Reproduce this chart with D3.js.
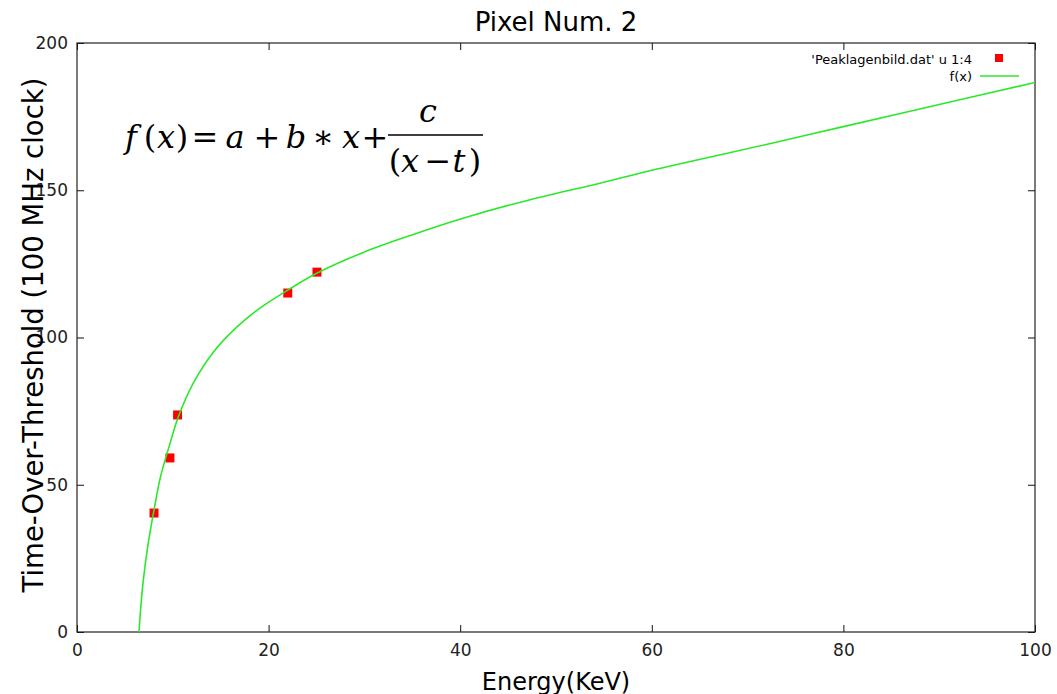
<!DOCTYPE html>
<html>
<head>
<meta charset="utf-8">
<script src="https://cdn.jsdelivr.net/npm/d3@7"></script>
<style>
  body { margin: 0; background: #fff; }
  svg { display: block; }
  .tick text { font-family: "DejaVu Sans", sans-serif; font-size: 17px; fill: #222; }
</style>
</head>
<body>
<div class="mainDiv"></div>
<script>
// measured points ('Peaklagenbild.dat' u 1:4)
const energy = [8.04, 9.7, 10.5, 22.0, 25.05];
const tot = [40.4, 59.1, 73.7, 115.1, 122.2];

// fitted curve f(x)
const fitEnergy = [6.47, 6.7, 6.92, 7.38, 8.07, 8.74, 9.71, 10.57, 12.14, 14.23, 16.67, 19.1, 22.06, 25.02, 29.89, 35.1, 40.3, 47.3, 54.6, 60, 72.3, 80, 90, 100];
const fitTot = [0, 10, 17.5, 29, 42, 53, 64, 73, 84.5, 95, 103.5, 110, 116.2, 121.8, 128.9, 135, 140.5, 146.8, 152.4, 156.8, 165.8, 171.6, 179.1, 186.6];

const xTicks = [0, 20, 40, 60, 80, 100];
const yTicks = [0, 50, 100, 150, 200];

const W = 1057, H = 694;
const margin = { top: 43, right: 22, bottom: 62, left: 77 };

const svg = d3.select('.mainDiv').append('svg')
  .attr('width', W).attr('height', H);

const x = d3.scaleLinear().domain([0, 100]).range([margin.left, W - margin.right]);
const y = d3.scaleLinear().domain([0, 200]).range([H - margin.bottom, margin.top]);

svg.append('clipPath').attr('id', 'plot')
  .append('rect')
  .attr('x', x(0)).attr('y', y(200))
  .attr('width', x(100) - x(0)).attr('height', y(0) - y(200));

// axes, ticks pointing inward on all four sides
svg.append('g')
  .attr('transform', `translate(0,${y(0)})`)
  .call(d3.axisBottom(x).tickValues(xTicks).tickSizeInner(-7).tickSizeOuter(0).tickPadding(12))
  .call(g => g.select('.domain').remove());
svg.append('g')
  .attr('transform', `translate(0,${y(200)})`)
  .call(d3.axisTop(x).tickValues(xTicks).tickSizeInner(-7).tickSizeOuter(0).tickFormat(''))
  .call(g => g.select('.domain').remove());
svg.append('g')
  .attr('transform', `translate(${x(0)},0)`)
  .call(d3.axisLeft(y).tickValues(yTicks).tickSizeInner(-7).tickSizeOuter(0).tickPadding(9))
  .call(g => g.select('.domain').remove());
svg.append('g')
  .attr('transform', `translate(${x(100)},0)`)
  .call(d3.axisRight(y).tickValues(yTicks).tickSizeInner(-7).tickSizeOuter(0).tickFormat(''))
  .call(g => g.select('.domain').remove());

svg.selectAll('.tick line').attr('stroke', '#111');

// border
svg.append('rect')
  .attr('x', x(0)).attr('y', y(200))
  .attr('width', x(100) - x(0)).attr('height', y(0) - y(200))
  .attr('fill', 'none').attr('stroke', '#222').attr('stroke-width', 1.2);

// data points
svg.append('g').selectAll('rect')
  .data(energy.map((e, i) => [e, tot[i]]))
  .join('rect')
  .attr('x', d => x(d[0]) - 4.5)
  .attr('y', d => y(d[1]) - 4.5)
  .attr('width', 9).attr('height', 9)
  .attr('fill', '#ff0000');

// fit line
const line = d3.line()
  .x(d => x(d[0]))
  .y(d => y(d[1]))
  .curve(d3.curveCatmullRom.alpha(0.5));

svg.append('path')
  .datum(fitEnergy.map((e, i) => [e, fitTot[i]]))
  .attr('clip-path', 'url(#plot)')
  .attr('d', line)
  .attr('fill', 'none')
  .attr('stroke', '#2be82b')
  .attr('stroke-width', 1.6);

// title and axis labels
svg.append('text')
  .attr('x', 556).attr('y', 31)
  .attr('text-anchor', 'middle')
  .style('font-family', '"DejaVu Sans", sans-serif')
  .style('font-size', '26px')
  .text('Pixel Num. 2');

svg.append('text')
  .attr('x', 556).attr('y', 690)
  .attr('text-anchor', 'middle')
  .style('font-family', '"DejaVu Sans", sans-serif')
  .style('font-size', '24px')
  .text('Energy(KeV)');

svg.append('text')
  .attr('transform', 'translate(43,335) rotate(-90)')
  .attr('text-anchor', 'middle')
  .style('font-family', '"DejaVu Sans", sans-serif')
  .style('font-size', '27.5px')
  .text('Time-Over-Threshold (100 MHz clock)');

// legend
const legend = svg.append('g')
  .style('font-family', '"DejaVu Sans", sans-serif')
  .style('font-size', '13px');
legend.append('text')
  .attr('x', 972).attr('y', 64)
  .attr('text-anchor', 'end')
  .text("'Peaklagenbild.dat' u 1:4");
legend.append('rect')
  .attr('x', 995).attr('y', 54).attr('width', 8).attr('height', 8)
  .attr('fill', '#ff0000');
legend.append('text')
  .attr('x', 972).attr('y', 81)
  .attr('text-anchor', 'end')
  .text('f(x)');
legend.append('line')
  .attr('x1', 980).attr('x2', 1019).attr('y1', 76).attr('y2', 76)
  .attr('stroke', '#2be82b').attr('stroke-width', 1.6);

// formula, one glyph group at a time
const mathFont = '"DejaVu Serif", serif';
const mathTokens = [
  // [text, italic, centre x, baseline y]
  ['f', true, 131, 148], ['(', false, 150, 148], ['x', true, 166, 148], [')', false, 182, 148],
  ['=', false, 205, 148], ['a', true, 235, 148], ['+', false, 267, 148], ['b', true, 296, 148],
  ['\u2217', false, 323, 148], ['x', true, 351, 148], ['+', false, 375, 148],
  ['c', true, 428, 122],
  ['(', false, 395, 172], ['x', true, 410, 172], ['\u2212', false, 438, 172], ['t', true, 459, 172], [')', false, 475, 172]
];
svg.append('g')
  .style('font-family', mathFont)
  .style('font-size', '32px')
  .selectAll('text')
  .data(mathTokens)
  .join('text')
  .attr('x', d => d[2]).attr('y', d => d[3])
  .attr('text-anchor', 'middle')
  .style('font-style', d => d[1] ? 'italic' : 'normal')
  .text(d => d[0]);

svg.append('line')
  .attr('x1', 388).attr('x2', 483).attr('y1', 135).attr('y2', 135)
  .attr('stroke', '#000').attr('stroke-width', 1.6);
</script>
</body>
</html>
